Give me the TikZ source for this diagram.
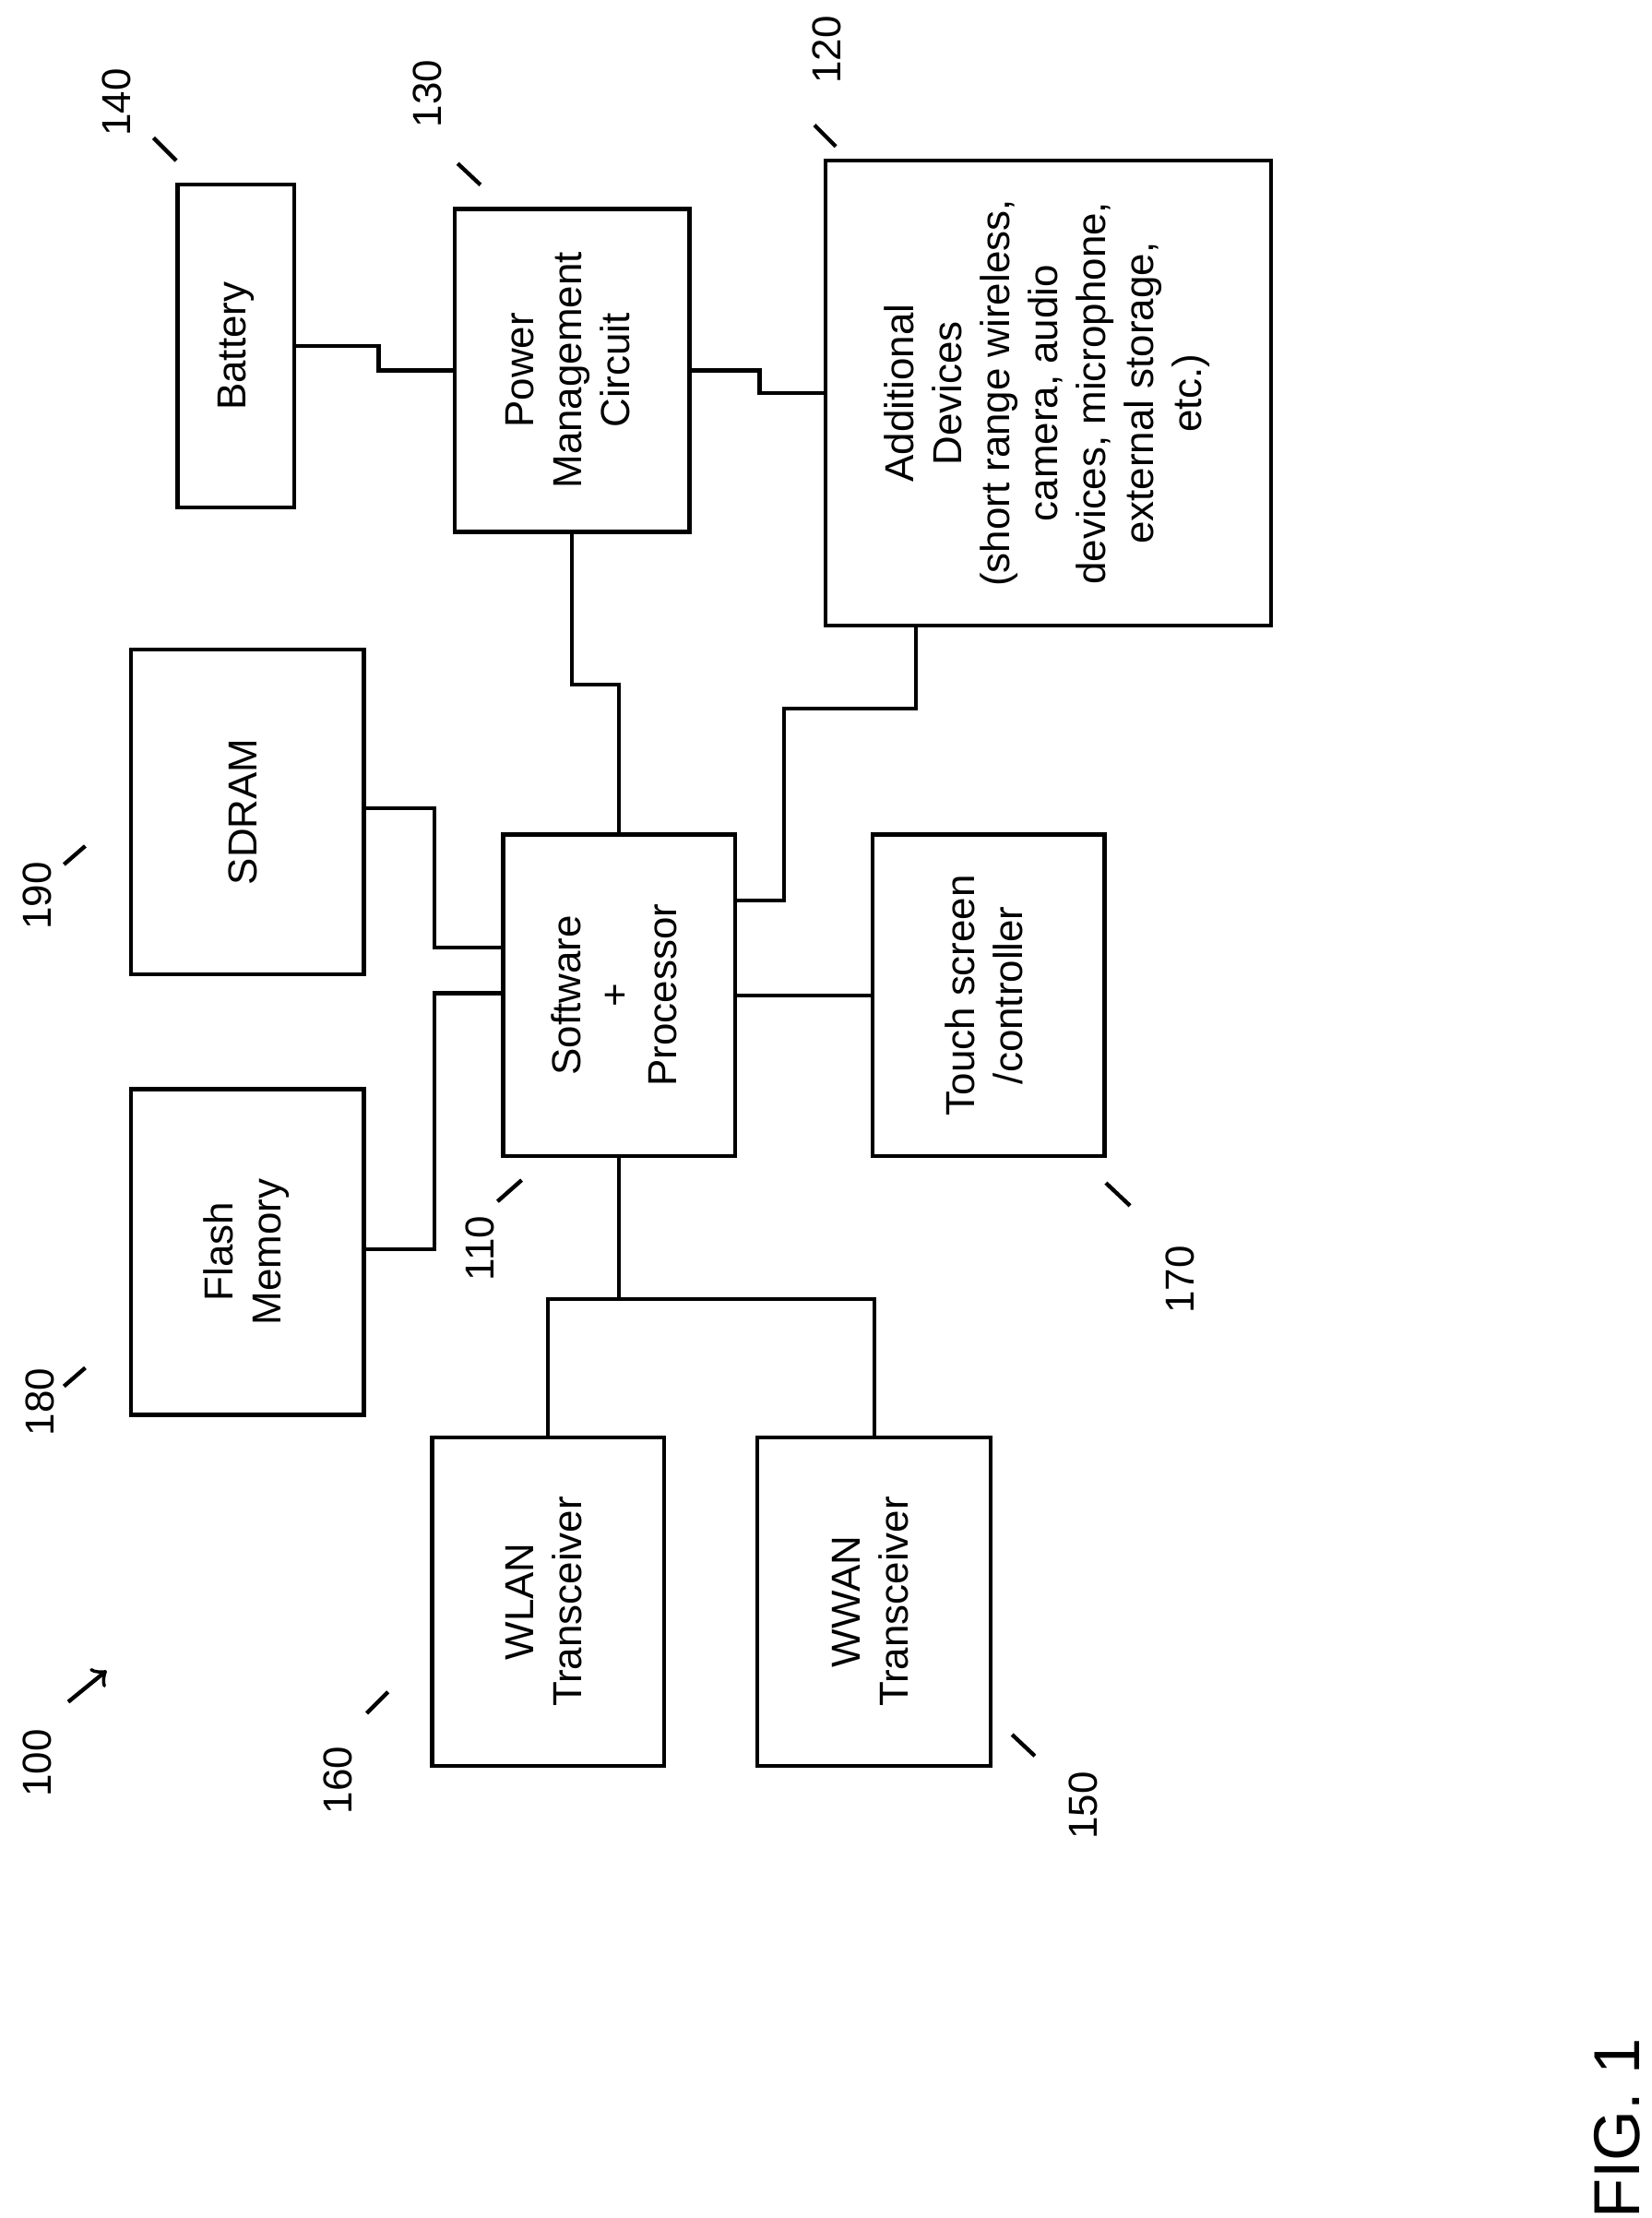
\documentclass[tikz,border=0pt]{standalone}
\usepackage{fontspec}
\setmainfont{Liberation Sans}
\usetikzlibrary{calc}
\tikzset{
    blk/.style={draw, thick, rectangle, inner sep=0pt, align=center, font=\fontsize{8.1}{9.6}\selectfont},
    conn/.style={-, thick},
    refn/.style={rotate=90, inner sep=0pt, font=\fontsize{8.1}{9.6}\selectfont},
    tick/.style={-, thick},
}
\newcommand{\vtext}[1]{\rotatebox{90}{\begin{tabular}{c}#1\end{tabular}}}
\begin{document}
\begin{tikzpicture}[x=0.01cm, y=-0.01cm]
    \useasboundingbox (0,0) rectangle (1162,1560);
    % blocks
    \node [blk, minimum width=0.82cm, minimum height=2.27cm] (bat) at (166,243.5) {\vtext{Battery}};
    \node [blk, minimum width=1.65cm, minimum height=2.27cm] (pmc) at (402.5,260.5) {\vtext{Power\\Management\\Circuit}};
    \node [blk, minimum width=3.13cm, minimum height=3.27cm] (add) at (737.5,276.5) {\vtext{Additional\\Devices\\(short range wireless,\\camera, audio\\devices, microphone,\\external storage,\\etc.)}};
    \node [blk, minimum width=1.64cm, minimum height=2.28cm] (sdram) at (174,571) {\vtext{SDRAM}};
    \node [blk, minimum width=1.64cm, minimum height=2.29cm] (flash) at (174,880.5) {\vtext{Flash\\Memory}};
    \node [blk, minimum width=1.63cm, minimum height=2.26cm] (proc) at (435.5,700) {\vtext{Software\\+\\Processor}};
    \node [blk, minimum width=1.63cm, minimum height=2.26cm] (touch) at (695.5,700) {\vtext{Touch screen\\/controller}};
    \node [blk, minimum width=1.63cm, minimum height=2.31cm] (wlan) at (385.5,1126.5) {\vtext{WLAN\\Transceiver}};
    \node [blk, minimum width=1.64cm, minimum height=2.31cm] (wwan) at (615,1126.5) {\vtext{WWAN\\Transceiver}};

    % connectors
    \draw[conn] (bat.east) -- ++(58,0) |- (pmc.west);
    \draw[conn] (pmc.east) -- ++(48,0) |- (add.west);
    \draw[conn] (pmc.south) -- ++(0,106) -| (proc.north);
    \draw[conn] ($(add.south west)+(65,0)$) -- ++(0,57) -- ++(-93,0) |- ($(proc.north east)+(0,48)$);
    \draw[conn] ($(sdram.north east)+(0,113)$) -- ++(48,0) |- ($(proc.north west)+(0,81)$);
    \draw[conn] ($(flash.north east)+(0,114)$) -- ++(48,0) |- ($(proc.north west)+(0,113)$);
    \draw[conn] (proc.east) -- (touch.west);
    \draw[conn] (proc.south) -- ++(0,99) coordinate (j);
    \draw[conn] (wlan.north) |- (j) -| (wwan.north);

    % reference numerals
    \node [refn] (n140) at (82,72) {140};
    \node [refn] (n130) at (301,66) {130};
    \node [refn] (n120) at (582,35) {120};
    \node [refn] (n190) at (26,630) {190};
    \node [refn] (n180) at (28,986) {180};
    \node [refn] (n110) at (338,878) {110};
    \node [refn] (n170) at (830,900) {170};
    \node [refn] (n160) at (238,1252) {160};
    \node [refn] (n150) at (762,1270) {150};
    \node [refn] (n100) at (26,1240) {100};
    \node [refn, font=\fontsize{13}{16}\selectfont] (fig) at (1138,1497) {FIG. 1};

    \draw[tick] (108,97) -- (124,113);
    \draw[tick] (322,115) -- (338,130);
    \draw[tick] (573,88) -- (588,103);
    \draw[tick] (45,608) -- (60,595);
    \draw[tick] (45,975) -- (60,962);
    \draw[tick] (350,845) -- (367,830);
    \draw[tick] (778,832) -- (795,848);
    \draw[tick] (258,1205) -- (273,1190);
    \draw[tick] (712,1220) -- (728,1235);
    \draw[tick, ->] (48,1197) -- (75,1175);
\end{tikzpicture}
\end{document}
